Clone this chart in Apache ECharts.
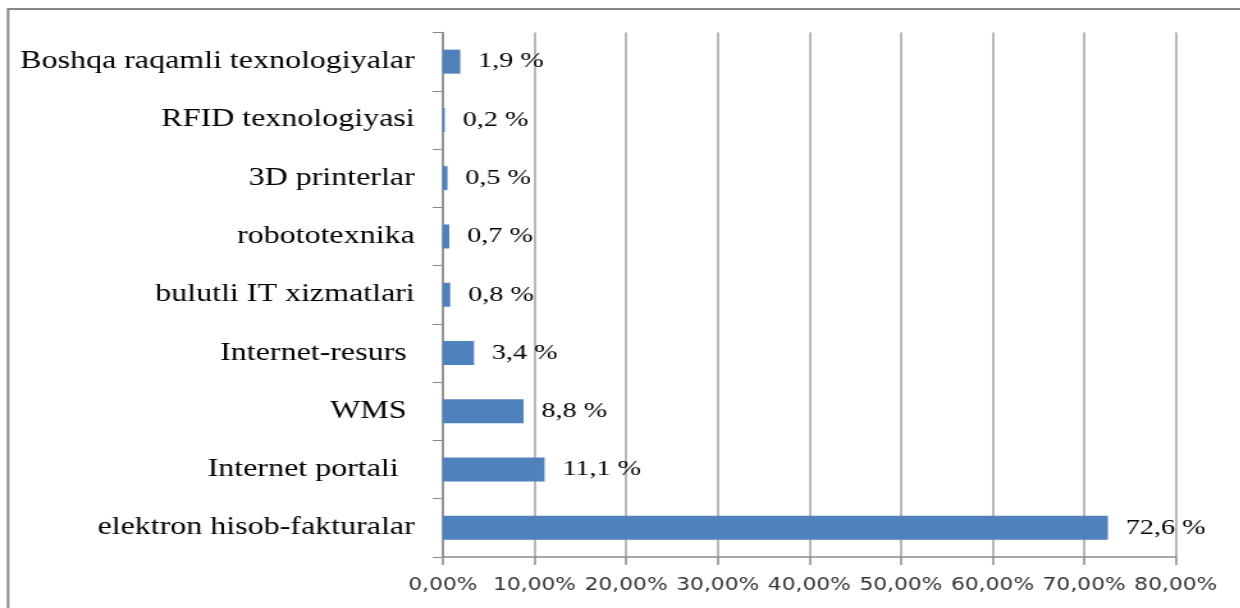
<!DOCTYPE html>
<html>
<head>
<meta charset="utf-8">
<script src="https://cdn.jsdelivr.net/npm/echarts@6/dist/echarts.min.js"></script>
<style>
  html, body { margin: 0; padding: 0; background: #fff; overflow: hidden; }
  /* the original picture is stretched sideways, so the chart is drawn narrow and widened */
  #chart { width: 969px; height: 608px; transform: scaleX(1.28); transform-origin: 0 0; }
</style>
</head>
<body>
<div id="chart"></div>
<script>
// bottom to top, as on the picture
const categories = [
  'elektron hisob-fakturalar',
  'Internet portali  ',
  'WMS ',
  'Internet-resurs ',
  'bulutli IT xizmatlari',
  'robototexnika',
  '3D printerlar',
  'RFID texnologiyasi',
  'Boshqa raqamli texnologiyalar',
]
const values = [72.6, 11.1, 8.8, 3.4, 0.8, 0.7, 0.5, 0.2, 1.9]
const xTicks = [0, 10, 20, 30, 40, 50, 60, 70, 80]

const serif = "'Liberation Serif', 'Times New Roman', serif"
const chart = echarts.init(document.getElementById('chart'))

chart.setOption({
  animation: false,
  graphic: [{
    type: 'rect', silent: true,
    shape: { x: 6.3, y: 9, width: 1100, height: 700 },
    style: { fill: 'none', stroke: '#888', lineWidth: 2 },
  }],
  grid: { left: 346, right: 50.5, top: 32.5, bottom: 51 },
  xAxis: {
    type: 'value',
    min: xTicks[0], max: xTicks[xTicks.length - 1], interval: 10,
    axisLine: { show: true, lineStyle: { color: '#8a8a8a', width: 1.5 } },
    axisTick: { show: true, length: 8, lineStyle: { color: '#8a8a8a', width: 1.5 } },
    axisLabel: {
      margin: 20, color: '#333', fontFamily: "'DejaVu Sans', Verdana, sans-serif", fontSize: 17,
      formatter: v => v.toFixed(2).replace('.', ',') + '%',
    },
    splitLine: { show: true, lineStyle: { color: '#a0a0a0', width: 1.5 } },
  },
  yAxis: {
    type: 'category',
    data: categories,
    axisLine: { show: true, lineStyle: { color: '#8a8a8a', width: 1.5 } },
    axisTick: { show: true, length: 8, lineStyle: { color: '#8a8a8a', width: 1 } },
    axisLabel: { margin: 22, color: '#000', fontFamily: serif, fontSize: 25 },
  },
  series: [{
    type: 'bar',
    data: values,
    barWidth: 24,
    itemStyle: { color: '#4f81bd' },
    label: {
      show: true, position: 'right', distance: 14,
      color: '#000', fontFamily: serif, fontSize: 22,
      formatter: p => p.value.toFixed(1).replace('.', ',') + ' %',
    },
  }],
})
</script>
</body>
</html>
